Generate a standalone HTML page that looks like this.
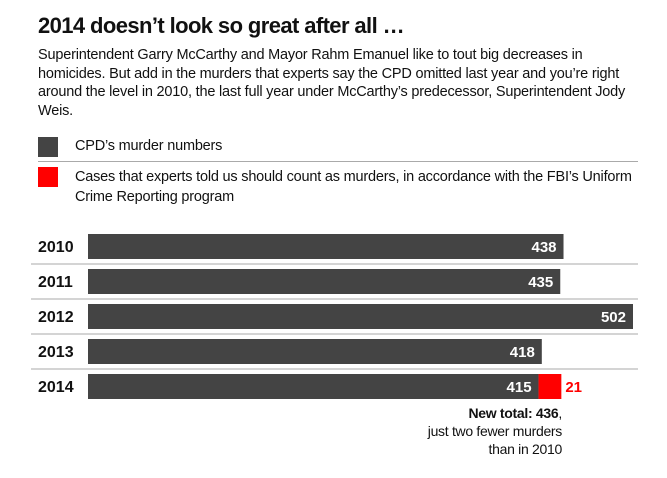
<!DOCTYPE html>
<html><head><meta charset="utf-8"><style>
body{margin:0;width:667px;height:478px;background:#fff;font-family:"Liberation Sans",sans-serif;color:#111;position:relative;overflow:hidden}
.t{position:absolute;white-space:nowrap}
</style></head><body>
<div class="t" style="left:38px;top:13px;font-size:22px;font-weight:bold;letter-spacing:-0.6px">2014 doesn’t look so great after all …</div>
<div class="t" style="left:38px;top:46px;font-size:14.5px;line-height:18.5px;letter-spacing:-0.2px">Superintendent Garry McCarthy and Mayor Rahm Emanuel like to tout big decreases in<br>homicides. But add in the murders that experts say the CPD omitted last year and you’re right<br>around the level in 2010, the last full year under McCarthy’s predecessor, Superintendent Jody<br>Weis.</div>
<div style="position:absolute;left:38px;top:137px;width:20px;height:20px;background:#444"></div>
<div class="t" style="left:75px;top:138px;font-size:14.5px;letter-spacing:-0.2px">CPD’s murder numbers</div>
<div style="position:absolute;left:38px;top:161px;width:600px;height:1px;background:#aaa"></div>
<div style="position:absolute;left:38px;top:167px;width:20px;height:20px;background:#f00"></div>
<div class="t" style="left:75px;top:167px;font-size:14.5px;line-height:20px;letter-spacing:-0.2px">Cases that experts told us should count as murders, in accordance with the FBI’s Uniform<br>Crime Reporting program</div>
<svg id="chart" width="667" height="478" style="position:absolute;left:0;top:0"></svg>
<div class="t" style="right:105px;top:404px;font-size:14px;line-height:18px;text-align:right;letter-spacing:-0.3px"><b>New total: 436</b>,<br>just two fewer murders<br>than in 2010</div>
<script>
const years=["2010","2011","2012","2013","2014"];
const cpd=[438,435,502,418,415];
const extra=[0,0,0,0,21];
const svg=document.getElementById('chart');
const NS='http://www.w3.org/2000/svg';
const x0=88,scale=(633-88)/502;
function xs(v){return x0+v*scale;}
function yr(i){return 234+i*35;}
function mk(tag,attrs){const e=document.createElementNS(NS,tag);for(const k in attrs)e.setAttribute(k,attrs[k]);svg.appendChild(e);return e;}
years.forEach((y,i)=>{
  const top=yr(i);
  const lab=mk('text',{x:38,y:top+18,'font-size':16,'font-weight':'bold',fill:'#111','font-family':'Liberation Sans'});
  lab.textContent=y;
  
  
  const r=mk('rect',{x:x0,y:top,width:xs(cpd[i])-x0,height:25,fill:'#444'});
  
  
  const v=mk('text',{x:xs(cpd[i])-7,y:top+18,'font-size':15,'font-weight':'bold',fill:'#fff','text-anchor':'end','font-family':'Liberation Sans'});
  v.textContent=cpd[i];
  
  
  if(extra[i]>0){
    const rr=mk('rect',{x:xs(cpd[i]),y:top,width:xs(cpd[i]+extra[i])-xs(cpd[i]),height:25,fill:'#f00'});
    
    
    const t=mk('text',{x:xs(cpd[i]+extra[i])+4,y:top+18,'font-size':15,'font-weight':'bold',fill:'#f00','font-family':'Liberation Sans'});
    t.textContent=extra[i];
    
    
  }
  if(i<years.length-1){
    const l=mk('rect',{x:31,y:top+29.5,width:607,height:1,fill:'#aaa'});
    
    
  }
});
</script>
</body></html>
